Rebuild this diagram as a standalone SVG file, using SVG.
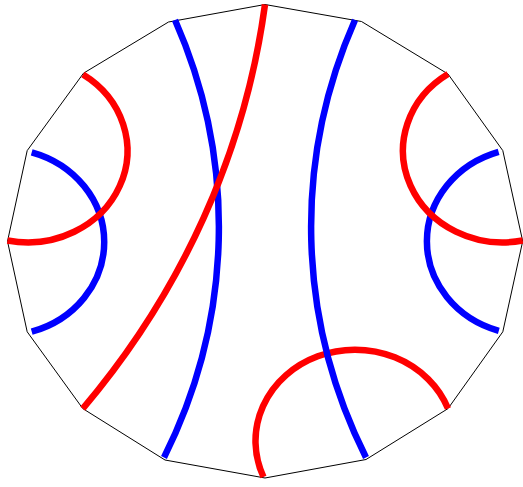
<svg xmlns="http://www.w3.org/2000/svg" width="523" height="487" viewBox="0 0 523 487">
<style>
.poly{fill:none;stroke:#000;stroke-width:1}
.r{fill:none;stroke:#ff0000;stroke-width:6.5}
.b{fill:none;stroke:#0000ff;stroke-width:6.5}
</style>
<rect width="523" height="487" fill="#fff"/>
<g id="boundary">
<polygon class="poly" points="265,4.5 361.5,21.5 448,74 502.8,150.6 522.7,241.2 502.8,331.8 448,408.6 366,459.5 265,478 165,460 82.8,408.6 27.2,331.8 7.5,241.3 27.2,150.6 83.5,73.2 168.5,22"/>
</g>
<g id="curves">
<path id="blue-left" class="b" d="M31.7,152.3 A102 93.7 0 0 1 31.7,331.7"/>
<path id="blue-right" class="b" d="M498.6,151.8 A102 93.7 0 0 0 498.8,330.8"/>
<path id="red-left" class="r" d="M83,74.4 A99.8 91.7 0 0 1 7.5,240.5"/>
<path id="red-right" class="r" d="M448,74 A99.8 91.7 0 0 0 522.7,240.5"/>
<path id="blue-long-left" class="b" d="M175,20 A601 552 0 0 1 164,457.5"/>
<path id="red-diag" class="r" d="M265,4.5 A896.6 823.5 0 0 1 82.8,408.6"/>
<path id="red-bottom" class="r" d="M448,408.6 A99.5 91.4 0 1 0 263.5,477"/>
<path id="blue-long-right" class="b" d="M355,20 A601 552 0 0 0 366,457.5"/>
</g>
</svg>
